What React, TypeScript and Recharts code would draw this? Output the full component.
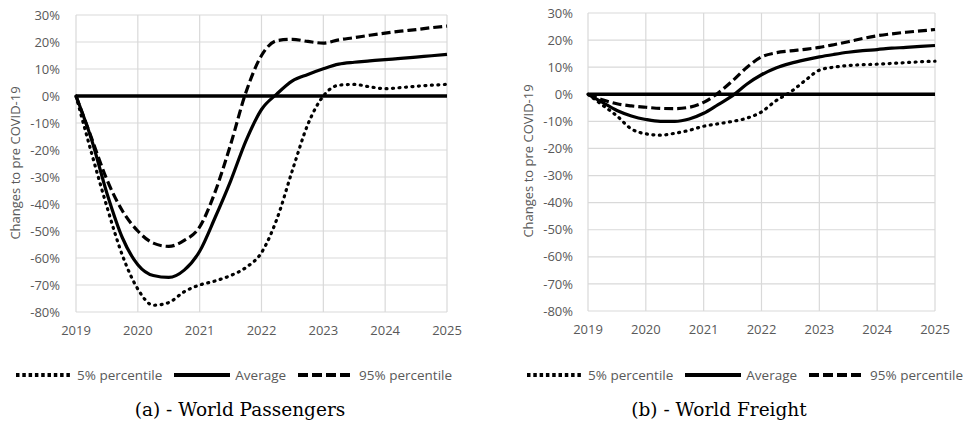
import { LineChart, Line, XAxis, YAxis, CartesianGrid, ReferenceLine, Legend } from 'recharts';

// quarter steps, 2019 .. 2025
const quarters = [
  2019, 2019.25, 2019.5, 2019.75, 2020, 2020.25, 2020.5, 2020.75, 2021, 2021.25, 2021.5, 2021.75,
  2022, 2022.25, 2022.5, 2022.75, 2023, 2023.25, 2023.5, 2023.75, 2024, 2024.25, 2024.5, 2024.75, 2025,
];
const yearTicks = [2019, 2020, 2021, 2022, 2023, 2024, 2025];
const pctTicks = [-80, -70, -60, -50, -40, -30, -20, -10, 0, 10, 20, 30];

// (a) World Passengers, % change
const paxP5 = [0, -21, -41, -59, -71.5, -77.5, -76.5, -72.5, -70, -68.5, -66.5, -63.5, -58, -45.5, -27.5, -10.5, 0, 4, 4.3, 3.4, 2.7, 3.1, 3.6, 4, 4.3];
const paxAvg = [0, -16, -36, -52.5, -62.5, -66.5, -67.2, -64.5, -57.5, -45, -31.5, -16.5, -5, 0.8, 5.6, 8, 10.1, 11.8, 12.5, 13, 13.5, 13.9, 14.4, 14.9, 15.4];
const paxP95 = [0, -15.5, -31, -42.5, -50, -54.5, -55.7, -53.5, -48.5, -35.5, -18, 1.5, 15, 20.5, 21, 20.2, 19.6, 20.8, 21.6, 22.5, 23.3, 24, 24.6, 25.3, 25.9];

// (b) World Freight, % change
const frP5 = [0, -4, -8, -12.8, -14.6, -15.1, -14.4, -13.3, -11.8, -10.9, -10, -8.8, -6.5, -2.4, 0.8, 5, 8.9, 10, 10.6, 10.9, 11.1, 11.4, 11.7, 12, 12.2];
const frAvg = [0, -3, -6, -8, -9.3, -10, -10, -9.1, -7, -3.8, -0.5, 3.8, 7.2, 9.7, 11.4, 12.7, 13.8, 14.7, 15.5, 16.1, 16.5, 17, 17.3, 17.7, 18];
const frP95 = [0, -2, -3.5, -4.3, -4.8, -5.2, -5.3, -4.8, -3, 0.5, 5, 10, 13.8, 15.3, 16, 16.6, 17.3, 18.3, 19.4, 20.6, 21.6, 22.3, 22.9, 23.4, 23.9];

const seriesNames = ['5% percentile', 'Average', '95% percentile'];
const DASHES = ['1 5.5', undefined, '9 4'];
const CAPS = ['round', 'butt', 'butt'];
const LEGEND_DASHES = ['3.5 2.8', undefined, '10 4'];

const GRAY = '#595959';
const FONT = '"Open Sans", sans-serif';

function makeRows(p5: number[], avg: number[], p95: number[]) {
  return quarters.map((x, i) => ({ x, p5: p5[i], avg: avg[i], p95: p95[i] }));
}

function LegendBox({ left }: { left: number }) {
  return (
    <div style={{ display: 'flex', alignItems: 'center', paddingLeft: left, fontFamily: FONT, fontSize: 13.5, color: GRAY, whiteSpace: 'nowrap' }}>
      {seriesNames.map((name, i) => (
        <div key={name} style={{ display: 'flex', alignItems: 'center', marginRight: 12 }}>
          <svg width={56} height={8}>
            <line x1={0} y1={4} x2={56} y2={4} stroke="#000" strokeWidth={4} strokeDasharray={LEGEND_DASHES[i]} />
          </svg>
          <span style={{ marginLeft: 5 }}>{name}</span>
        </div>
      ))}
    </div>
  );
}

function Panel({ rows, width, margin, tickMargin, legendLeft }: {
  rows: Record<string, number>[]; width: number;
  margin: { top: number; right: number; bottom: number; left: number };
  tickMargin: number; legendLeft: number;
}) {
  const keys = ['p5', 'avg', 'p95'];
  return (
    <LineChart width={width} height={390} data={rows} margin={margin}>
      <CartesianGrid stroke="#d9d9d9" strokeWidth={1.2} />
      <XAxis dataKey="x" type="number" domain={[2019, 2025]} ticks={yearTicks} axisLine={false} tickLine={false}
        tickMargin={8} tick={{ fill: GRAY, fontSize: 13, fontFamily: FONT }} />
      <YAxis type="number" domain={[-80, 30]} ticks={pctTicks} width={60} axisLine={false} tickLine={false}
        tickMargin={tickMargin} tickFormatter={(v: number) => `${v}%`} tick={{ fill: GRAY, fontSize: 13, fontFamily: FONT }} />
      <ReferenceLine y={0} stroke="#000" strokeWidth={3.5} />
      {keys.map((k, i) => (
        <Line key={k} dataKey={k} name={seriesNames[i]} type="monotone" stroke="#000" strokeWidth={3.2}
          strokeDasharray={DASHES[i]} strokeLinecap={CAPS[i] as any} dot={false} isAnimationActive={false} />
      ))}
      <Legend verticalAlign="middle" align="center" layout="horizontal"
        wrapperStyle={{ top: 366, left: 0, width }} content={() => <LegendBox left={legendLeft} />} />
    </LineChart>
  );
}

const axisTitle: React.CSSProperties = {
  position: 'absolute', transform: 'translate(-50%, -50%) rotate(-90deg)', whiteSpace: 'nowrap',
  fontFamily: FONT, fontSize: 13, color: GRAY,
};
const caption: React.CSSProperties = {
  position: 'absolute', top: 397, textAlign: 'center', fontFamily: '"DejaVu Serif", serif', fontSize: 18.5, lineHeight: '26px', color: '#000',
};

export default function App() {
  const pax = makeRows(paxP5, paxAvg, paxP95);
  const fr = makeRows(frP5, frAvg, frP95);
  return (
    <div style={{ position: 'absolute', left: 0, top: 0, width: 963, height: 427, background: '#fff', overflow: 'hidden', fontFamily: FONT }}>
      <div style={{ position: 'absolute', left: 0, top: 0 }}>
        <Panel rows={pax} width={470} margin={{ top: 15, right: 23, bottom: 48, left: 16 }} tickMargin={10} legendLeft={16} />
      </div>
      <div style={{ position: 'absolute', left: 480, top: 0 }}>
        <Panel rows={fr} width={483} margin={{ top: 13, right: 28, bottom: 49, left: 48 }} tickMargin={9} legendLeft={47} />
      </div>
      <div style={{ ...axisTitle, left: 15, top: 163 }}>Changes to pre COVID-19</div>
      <div style={{ ...axisTitle, left: 528, top: 161 }}>Changes to pre COVID-19</div>
      <div style={{ ...caption, left: 0, width: 480 }}>(a) - World Passengers</div>
      <div style={{ ...caption, left: 480, width: 478 }}>(b) - World Freight</div>
    </div>
  );
}
